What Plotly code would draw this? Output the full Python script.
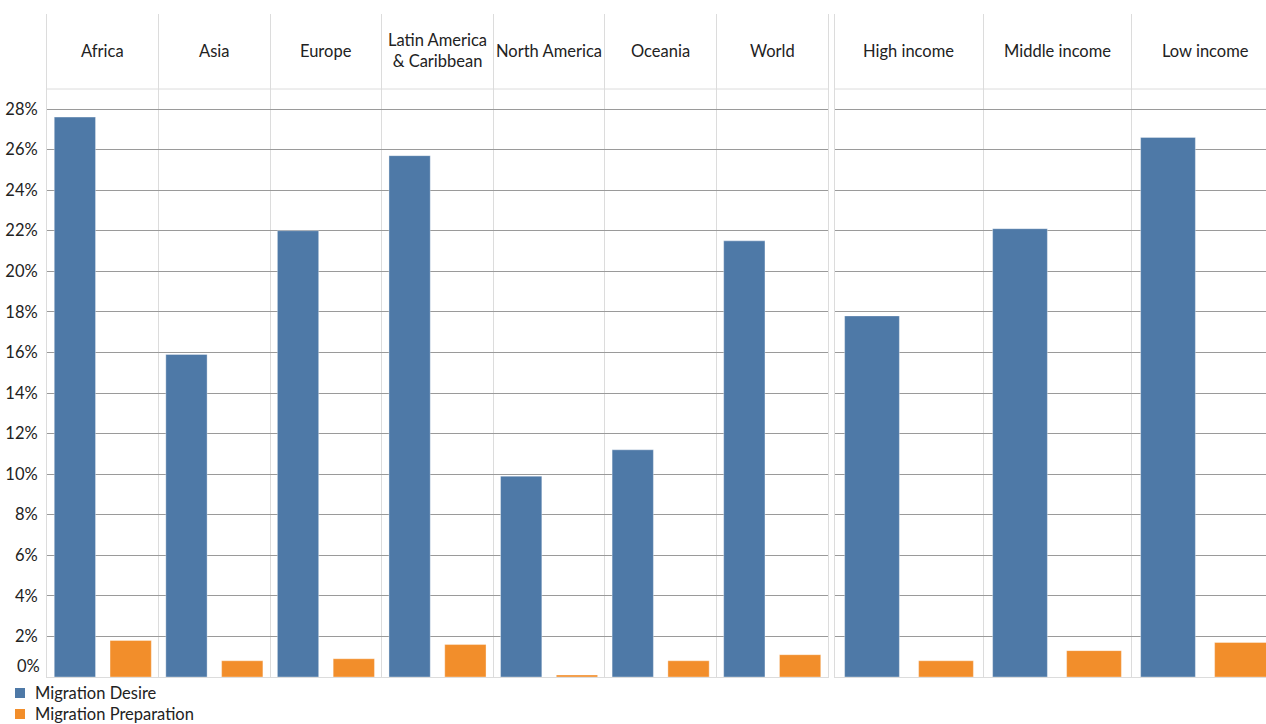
import plotly.graph_objects as go

# Regions (left panel) and income groups (right panel)
regions = ["Africa", "Asia", "Europe", "Latin America<br>& Caribbean",
           "North America", "Oceania", "World"]
region_desire = [27.6, 15.9, 22.0, 25.7, 9.9, 11.2, 21.5]
region_prep = [1.8, 0.8, 0.9, 1.6, 0.1, 0.8, 1.1]

incomes = ["High income", "Middle income", "Low income"]
income_desire = [17.8, 22.1, 26.6]
income_prep = [0.8, 1.3, 1.7]

series_names = ["Migration Desire", "Migration Preparation"]

y_ticks = [0, 2, 4, 6, 8, 10, 12, 14, 16, 18, 20, 22, 24, 26, 28]
y_tick_labels = [f"{v}%" for v in y_ticks]

BLUE = "#4e79a7"
ORANGE = "#f28e2b"
LIGHT = "#dcdcdc"
DARK = "#9a9a9a"
TEXT = "#222"
FONT = "Lato"
FS = 16.5

fig = go.Figure()

xr = list(range(len(regions)))
xi = list(range(len(incomes)))
edge = dict(width=1, color="rgba(255,255,255,0.35)")

fig.add_trace(go.Bar(x=xr, y=region_desire, name=series_names[0],
                     marker=dict(color=BLUE, line=edge), xaxis="x", yaxis="y"))
fig.add_trace(go.Bar(x=xr, y=region_prep, name=series_names[1],
                     marker=dict(color=ORANGE, line=edge), xaxis="x", yaxis="y"))
fig.add_trace(go.Bar(x=xi, y=income_desire, name=series_names[0],
                     marker=dict(color=BLUE, line=edge), xaxis="x2", yaxis="y2"))
fig.add_trace(go.Bar(x=xi, y=income_prep, name=series_names[1],
                     marker=dict(color=ORANGE, line=edge), xaxis="x2", yaxis="y2"))

W, H = 1266, 724
px_per_unit = (677 - 109) / 28.0
y_top = (677 - 14) / px_per_unit
y_dom = [(H - 677) / H, (H - 14) / H]

def boundaries(n):
    return [i - 0.5 for i in range(n + 1)]

xaxis_common = dict(showticklabels=False, ticks="", showgrid=True,
                    gridcolor=LIGHT, gridwidth=1, zeroline=False,
                    showline=True, linecolor=LIGHT, linewidth=1,
                    tickmode="array", fixedrange=True)

fig.update_layout(
    width=W, height=H,
    margin=dict(l=0, r=0, t=0, b=0),
    paper_bgcolor="white", plot_bgcolor="white",
    font=dict(family=FONT, size=FS, color=TEXT),
    barmode="group", bargap=0.0, bargroupgap=0.26,
    showlegend=False,
    xaxis=dict(domain=[47 / W, 828 / W], range=[-0.5, len(regions) - 0.5],
               tickvals=boundaries(len(regions)), anchor="y", **xaxis_common),
    xaxis2=dict(domain=[835 / W, 1.0],
                range=[-0.5, -0.5 + (W - 835) / 148.0],
                tickvals=boundaries(len(incomes)), anchor="y2", **xaxis_common),
    yaxis=dict(domain=y_dom, range=[0, y_top], tickmode="array",
               tickvals=y_ticks,
               ticktext=["" if v == 0 else t for v, t in zip(y_ticks, y_tick_labels)],
               showgrid=True, gridcolor=DARK, gridwidth=1,
               zeroline=True, zerolinecolor=LIGHT, zerolinewidth=1,
               showline=True, mirror=True, linecolor=LIGHT, linewidth=1,
               ticks="", ticklabelstandoff=5,
               tickfont=dict(family=FONT, size=FS, color=TEXT),
               anchor="x", fixedrange=True),
    yaxis2=dict(domain=y_dom, range=[0, y_top], tickmode="array",
                tickvals=y_ticks, showticklabels=False,
                showgrid=True, gridcolor=DARK, gridwidth=1,
                zeroline=True, zerolinecolor=LIGHT, zerolinewidth=1,
                showline=True, mirror=False, linecolor=LIGHT, linewidth=1,
                ticks="", anchor="x2", fixedrange=True),
)

# header separator line across each panel
header_y = (H - 89) / H
for xd in ("x domain", "x2 domain"):
    fig.add_shape(type="line", xref=xd, yref="paper", x0=0, x1=1,
                  y0=header_y, y1=header_y, line=dict(color=LIGHT, width=1),
                  layer="below")

# column headers
label_y = (H - 51) / H
for i, name in enumerate(regions):
    fig.add_annotation(x=i, xref="x", y=label_y, yref="paper", text=name,
                       showarrow=False, font=dict(family=FONT, size=FS, color=TEXT),
                       xanchor="center", yanchor="middle")
for i, name in enumerate(incomes):
    fig.add_annotation(x=i, xref="x2", y=label_y, yref="paper", text=name,
                       showarrow=False, font=dict(family=FONT, size=FS, color=TEXT),
                       xanchor="center", yanchor="middle")

# zero label sits slightly above the baseline
fig.add_annotation(x=42 / W, xref="paper", y=0, yref="y", yshift=11,
                   text=y_tick_labels[0], showarrow=False, xanchor="right",
                   yanchor="middle", font=dict(family=FONT, size=FS, color=TEXT))

# legend below the chart, left aligned
for k, (name, color) in enumerate(zip(series_names, [BLUE, ORANGE])):
    cy = 693 + 21 * k
    fig.add_shape(type="rect", xref="paper", yref="paper",
                  x0=15 / W, x1=25 / W, y0=(H - cy - 5) / H, y1=(H - cy + 5) / H,
                  fillcolor=color, line=dict(width=0))
    fig.add_annotation(x=33 / W, xref="paper", y=(H - cy) / H, yref="paper",
                       text=name, showarrow=False, xanchor="left",
                       yanchor="middle", font=dict(family=FONT, size=FS, color=TEXT))

fig.write_html("out.html")
